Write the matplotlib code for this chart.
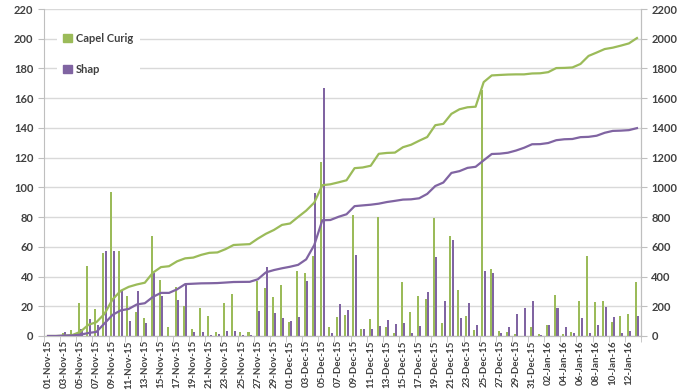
import numpy as np
import pandas as pd
import matplotlib
matplotlib.use("Agg")
import matplotlib.pyplot as plt
from matplotlib.patches import Patch

plt.rcParams['font.family'] = ['Lato', 'DejaVu Sans']

dates = pd.date_range('2015-11-01', periods=74, freq='D')

# daily rainfall (mm)
capel_curig = [0, 0, 2, 4, 22, 47, 18, 56, 97, 57.5,
               27, 16, 12, 67.5, 37.5, 6, 33, 20, 5, 18.6,
               13.5, 2.7, 22, 28, 3, 2.7, 37, 32.5, 26, 34,
               9.5, 44, 42.5, 54, 117, 6.3, 13, 14, 81.6, 4.5,
               11.7, 80.4, 5.8, 2.2, 36.4, 16.4, 27, 25, 79.6, 9,
               67.4, 30.8, 13.5, 3.8, 165.5, 45, 3.1, 2.7, 1.3, 0,
               6, 1.3, 7.6, 27.6, 1.1, 2.9, 23.6, 54, 22.7, 23.6,
               9.2, 13.7, 15, 36]
shap = [0, 0, 2.5, 1, 5, 11.5, 7.5, 57, 57.5, 30,
        10, 30, 8.5, 42.5, 27, 0, 24, 35, 2.7, 2.5,
        0.7, 1.3, 3.4, 3.6, 0.7, 0.5, 17, 46.5, 15.7, 12,
        10.3, 12.8, 37, 96, 167, 1.8, 21.3, 17.3, 54.6, 5,
        4.7, 7, 11, 7.9, 8.5, 1.8, 7, 29.4, 53, 23.6,
        64.7, 12, 22, 7.2, 43.4, 42.7, 2.2, 6.3, 14.6, 18.7,
        23.8, 0.9, 7.4, 19, 6.3, 1.8, 12.4, 2, 7.6, 19.8,
        12.6, 1.8, 3.4, 13.5]

green = '#9BBB59'
purple = '#8064A2'
grid_c = '#D9D9D9'
axis_c = '#BFBFBF'

x = np.arange(len(dates))
labels = [d.strftime('%d-%b-%y') for d in dates]

fig = plt.figure(figsize=(6.83, 3.92), dpi=100)
ax = fig.add_axes([0.0644, 0.1429, 0.8741, 0.834])
ax2 = ax.twinx()

ax.bar(x - 0.15, capel_curig, width=0.25, color=green, lw=0, antialiased=False, zorder=2)
ax.bar(x + 0.15, shap, width=0.25, color=purple, lw=0, antialiased=False, zorder=2)

# cumulative totals on the right axis
ax2.plot(x, np.cumsum(capel_curig), color=green, lw=1.6, zorder=3)
ax2.plot(x, np.cumsum(shap), color=purple, lw=1.6, zorder=3)

ax.set_ylim(0, 220)
ax.set_yticks(np.arange(0, 221, 20))
ax2.set_ylim(0, 2200)
ax2.set_yticks(np.arange(0, 2201, 200))
ax.set_xlim(-0.5, len(x) - 0.5)

ax.set_xticks(x[::2])
ax.set_xticklabels(labels[::2], rotation=90, fontsize=7, fontweight='bold', color='#404040')
ax.set_xticks(np.arange(-0.5, len(x), 2), minor=True)
ax.tick_params(axis='x', which='major', length=0, pad=3)
ax.tick_params(axis='x', which='minor', length=4, color=axis_c, direction='out')

for a in (ax, ax2):
    a.tick_params(axis='y', length=4, color=axis_c, labelsize=8, labelcolor='#404040')
    for lab in a.get_yticklabels():
        lab.set_fontweight('bold')
    for s in a.spines.values():
        s.set_color(axis_c)
    a.spines['top'].set_visible(False)

ax.yaxis.grid(True, color=grid_c, lw=1)
ax.set_axisbelow(True)
ax2.spines['left'].set_visible(False)

handles = [Patch(color=green, label='Capel Curig'), Patch(color=purple, label='Shap')]
leg = ax2.legend(handles=handles, loc='upper left', bbox_to_anchor=(0.012, 0.965),
                 frameon=True, fancybox=False, edgecolor='none', facecolor='white',
                 framealpha=1, handlelength=0.8, handleheight=0.8, handletextpad=0.3,
                 labelspacing=1.8, borderpad=0.6,
                 prop={'size': 8, 'weight': 'bold'})
for t in leg.get_texts():
    t.set_color('#404040')

fig.savefig('out.png', dpi=100)
